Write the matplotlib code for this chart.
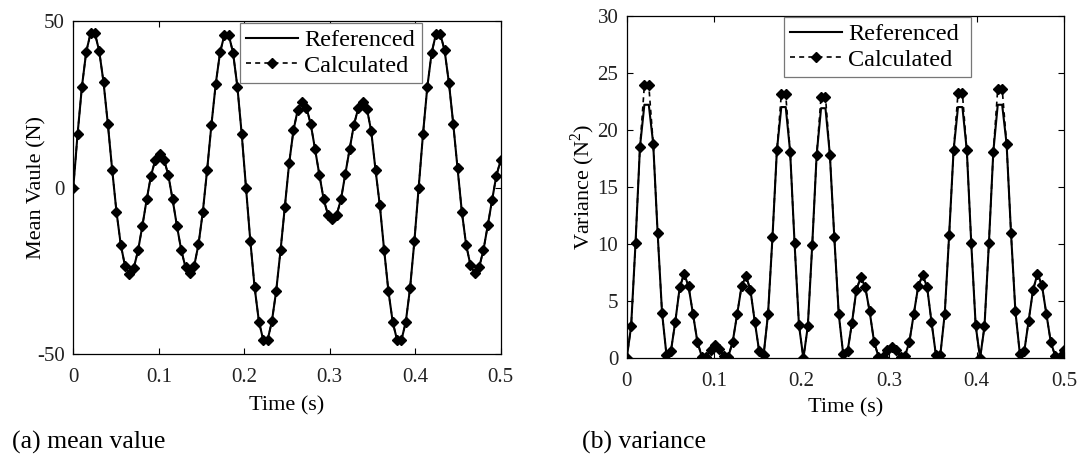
import numpy as np
import matplotlib
matplotlib.use("Agg")
import matplotlib.pyplot as plt

plt.rcParams['font.family'] = ['Liberation Serif', 'DejaVu Serif']
plt.rcParams['mathtext.fontset'] = 'custom'
plt.rcParams['mathtext.rm'] = 'Liberation Serif'
plt.rcParams['axes.unicode_minus'] = False

# ---- data ----
time = np.linspace(0, 0.5, 100)

mean_calculated = [
    0, 16.2, 30.3, 40.8, 46.3, 46.3, 41.0, 31.6, 19.1, 5.4,
    -7.3, -17.2, -23.7, -26.0, -24.2, -18.9, -11.5, -3.6, 3.6, 8.3,
    10.0, 8.4, 3.8, -3.6, -11.5, -18.8, -24.0, -25.8, -23.5, -17.1,
    -7.3, 5.3, 18.9, 31.2, 40.6, 45.8, 45.8, 40.5, 30.3, 16.2,
    0, -16.0, -30.0, -40.3, -45.8, -45.8, -40.2, -31.0, -18.9, -5.8,
    7.3, 17.2, 23.4, 25.6, 24.0, 19.0, 11.5, 3.8, -3.6, -8.2,
    -9.6, -8.2, -3.6, 4.0, 11.5, 18.8, 23.8, 25.7, 23.7, 17.0,
    5.3, -5.3, -18.8, -31.2, -40.5, -45.8, -45.8, -40.5, -30.3, -16.2,
    0, 16.0, 30.2, 40.4, 46.1, 46.1, 41.2, 31.5, 19.2, 5.8,
    -7.3, -17.3, -23.3, -25.8, -24.0, -18.8, -11.4, -3.8, 3.6, 8.2,
]
mean_referenced = list(mean_calculated)

var_calculated = [
    0, 2.8, 10.1, 18.5, 23.9, 23.9, 18.8, 11.0, 4.0, 0.3,
    0.6, 3.2, 6.2, 7.4, 6.3, 3.9, 1.45, 0.15, 0.15, 0.75,
    1.15, 0.8, 0.2, 0.15, 1.45, 3.85, 6.3, 7.2, 6.0, 3.2,
    0.6, 0.3, 3.9, 10.6, 18.2, 23.1, 23.1, 18.1, 10.1, 2.9,
    0, 2.8, 9.9, 17.8, 22.9, 22.9, 17.8, 10.6, 3.9, 0.4,
    0.6, 3.1, 6.0, 7.1, 6.25, 4.1, 1.45, 0.15, 0.15, 0.75,
    1.0, 0.75, 0.15, 0.2, 1.45, 3.9, 6.3, 7.3, 6.25, 3.2,
    0.3, 0.3, 3.9, 10.8, 18.2, 23.2, 23.2, 18.2, 10.1, 2.9,
    0, 2.8, 10.1, 18.1, 23.6, 23.6, 18.8, 11.0, 4.1, 0.4,
    0.6, 3.3, 6.0, 7.4, 6.4, 3.9, 1.45, 0.2, 0.15, 0.73,
]
var_referenced = [
    0, 2.8, 10.1, 18.5, 22.2, 22.2, 18.8, 11.0, 4.0, 0.3,
    0.6, 3.2, 6.2, 7.4, 6.3, 3.9, 1.45, 0.15, 0.15, 0.75,
    1.15, 0.8, 0.2, 0.15, 1.45, 3.85, 6.3, 7.2, 6.0, 3.2,
    0.6, 0.3, 3.9, 10.6, 18.2, 22.0, 22.0, 18.1, 10.1, 2.9,
    0, 2.8, 9.9, 17.8, 21.9, 21.9, 17.8, 10.6, 3.9, 0.4,
    0.6, 3.1, 6.0, 7.1, 6.25, 4.1, 1.45, 0.15, 0.15, 0.75,
    1.0, 0.75, 0.15, 0.2, 1.45, 3.9, 6.3, 7.3, 6.25, 3.2,
    0.3, 0.3, 3.9, 10.8, 18.2, 22.0, 22.0, 18.2, 10.1, 2.9,
    0, 2.8, 10.1, 18.1, 22.2, 22.2, 18.8, 11.0, 4.1, 0.4,
    0.6, 3.3, 6.0, 7.4, 6.4, 3.9, 1.45, 0.2, 0.15, 0.73,
]

x_ticks = [0, 0.1, 0.2, 0.3, 0.4, 0.5]
x_tick_labels = ['0', '0.1', '0.2', '0.3', '0.4', '0.5']
mean_ticks = [-50, 0, 50]
var_ticks = [0, 5, 10, 15, 20, 25, 30]
legend_labels = ['Referenced', 'Calculated']

W, H = 1078, 462
fig = plt.figure(figsize=(W / 100, H / 100), dpi=100)

def fbox(x0, y0, x1, y1):
    return [x0 / W, 1 - y1 / H, (x1 - x0) / W, (y1 - y0) / H]

ax1 = fig.add_axes(fbox(73.3, 21, 500.7, 354))
ax2 = fig.add_axes(fbox(626.7, 15.7, 1064, 358.3))

TICK_FS = 15
LABEL_FS = 16
LEG_FS = 17.5

def style(ax):
    for s in ax.spines.values():
        s.set_linewidth(0.9)
        s.set_color('black')
    ax.tick_params(direction='in', top=True, right=True, length=4, width=0.8,
                   labelsize=TICK_FS, colors='black')
    ax.tick_params(axis='x', pad=10)
    ax.tick_params(axis='y', pad=6)
    for lab in ax.get_xticklabels() + ax.get_yticklabels():
        lab.set_color('#222222')

def draw(ax, ref, calc):
    l1, = ax.plot(time, ref, color='black', linestyle='-', linewidth=1.5)
    l2, = ax.plot(time, calc, color='black', linestyle=(0, (3.0, 2.5)), linewidth=1.2,
                  marker='D', markersize=5.5, markerfacecolor='black', markeredgecolor='black')
    return l1, l2

h1 = draw(ax1, mean_referenced, mean_calculated)
ax1.set_xlim(0, 0.5)
ax1.set_ylim(-50, 50)
ax1.set_xticks(x_ticks)
ax1.set_xticklabels(x_tick_labels)
ax1.set_yticks(mean_ticks)
ax1.set_xlabel('Time (s)', fontsize=LABEL_FS, labelpad=7)
ax1.set_ylabel('Mean Vaule (N)', fontsize=LABEL_FS, labelpad=-7)
style(ax1)

h2 = draw(ax2, var_referenced, var_calculated)
ax2.set_xlim(0, 0.5)
ax2.set_ylim(0, 30)
ax2.set_xticks(x_ticks)
ax2.set_xticklabels(x_tick_labels)
ax2.set_yticks(var_ticks)
ax2.set_xlabel('Time (s)', fontsize=LABEL_FS, labelpad=5)
ax2.set_ylabel('Variance (N$^2$)', fontsize=LABEL_FS, labelpad=0)
style(ax2)

def legend(ax, handles, x0, y0, x1, y1):
    leg = ax.legend(handles, legend_labels, loc='upper left',
                    bbox_to_anchor=(x0 / W, 1 - y1 / H, (x1 - x0) / W, (y1 - y0) / H),
                    bbox_transform=fig.transFigure, mode='expand',
                    fontsize=LEG_FS, frameon=True, fancybox=False, framealpha=1,
                    edgecolor='#777777', borderpad=0.25, labelspacing=0.15,
                    handlelength=2.15, handletextpad=0.25, borderaxespad=0)
    leg.get_frame().set_linewidth(0.9)
    return leg

legend(ax1, h1, 240, 23, 422, 85)
legend(ax2, h2, 784, 17, 971, 81)

fig.text(12 / W, 1 - 442 / H, '(a) mean value', fontsize=18.5, va='center', ha='left')
fig.text(582 / W, 1 - 442 / H, '(b) variance', fontsize=18.5, va='center', ha='left')

fig.savefig('out.png', dpi=100)
